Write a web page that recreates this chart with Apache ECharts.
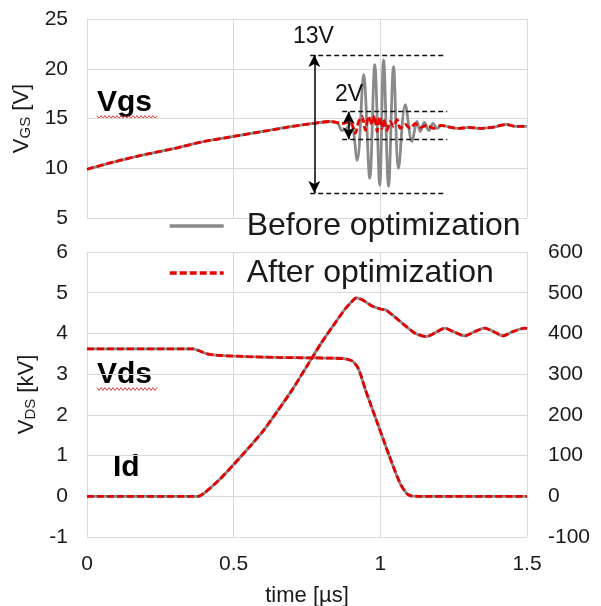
<!DOCTYPE html>
<html>
<head>
<meta charset="utf-8">
<script src="https://cdn.jsdelivr.net/npm/echarts@6.0.0/dist/echarts.min.js"></script>
<style>
html,body{margin:0;padding:0;background:#fff;}
#chart{width:601px;height:606px;}
</style>
</head>
<body>
<div id="chart"></div>
<script>
// ---- Data ----
// Gate-source voltage, before optimization (grey)
const tVgsBefore = [0, 0.1, 0.2, 0.3, 0.4, 0.5, 0.6, 0.7, 0.77, 0.83, 0.855, 0.869, 0.885, 0.9, 0.921, 0.943, 0.964, 0.981, 0.998, 1.011, 1.028, 1.045, 1.062, 1.085, 1.108, 1.125, 1.136, 1.15, 1.165, 1.18, 1.193, 1.21, 1.24, 1.27, 1.3, 1.34, 1.38, 1.43, 1.46, 1.5];
const vgsBefore  = [9.9, 10.7, 11.4, 12.0, 12.7, 13.2, 13.7, 14.2, 14.5, 14.7, 14.5, 13.8, 14.0, 14.6, 10.8, 19.4, 9.0, 20.4, 8.3, 20.9, 8.2, 20.2, 10.0, 16.4, 12.7, 14.7, 13.7, 14.6, 13.8, 14.5, 14.0, 14.3, 14.1, 14.0, 14.1, 14.0, 14.1, 14.4, 14.2, 14.2];
// Gate-source voltage, after optimization (red dashed)
const tVgsAfter = [0, 0.1, 0.2, 0.3, 0.4, 0.5, 0.6, 0.7, 0.77, 0.83, 0.87, 0.898, 0.915, 0.926, 0.938, 0.949, 0.96, 0.972, 0.98, 0.989, 0.998, 1.006, 1.011, 1.023, 1.034, 1.045, 1.057, 1.068, 1.085, 1.102, 1.119, 1.136, 1.159, 1.182, 1.205, 1.24, 1.27, 1.3, 1.34, 1.38, 1.43, 1.46, 1.5];
const vgsAfter  = [9.9, 10.7, 11.4, 12.0, 12.7, 13.2, 13.7, 14.2, 14.5, 14.7, 14.5, 14.7, 13.5, 14.7, 15.2, 13.8, 15.2, 14.4, 15.3, 13.7, 15.2, 14.0, 14.9, 13.8, 14.7, 14.2, 14.9, 14.0, 14.4, 14.0, 14.5, 14.1, 14.3, 14.0, 14.3, 14.1, 14.0, 14.1, 14.0, 14.1, 14.4, 14.2, 14.2];
// Drain-source voltage [kV] (before and after coincide)
const tVds = [0, 0.36, 0.38, 0.41, 0.45, 0.55, 0.65, 0.75, 0.85, 0.885, 0.905, 0.92, 0.93, 0.95, 0.97, 0.99, 1.01, 1.03, 1.05, 1.07, 1.09, 1.105, 1.13, 1.3, 1.5];
const vds  = [3.62, 3.62, 3.58, 3.5, 3.46, 3.43, 3.41, 3.40, 3.39, 3.37, 3.32, 3.2, 3.05, 2.6, 2.2, 1.8, 1.4, 1.0, 0.62, 0.28, 0.07, 0.01, 0, 0, 0];
// Drain current [A] (before and after coincide)
const tId = [0, 0.379, 0.40, 0.45, 0.5, 0.55, 0.6, 0.65, 0.7, 0.75, 0.8, 0.85, 0.88, 0.9, 0.918, 0.94, 0.97, 1.0, 1.02, 1.05, 1.09, 1.12, 1.157, 1.19, 1.22, 1.25, 1.288, 1.32, 1.356, 1.39, 1.418, 1.45, 1.493, 1.5];
const id  = [0, 0, 8, 40, 78, 118, 160, 210, 262, 320, 378, 430, 460, 476, 487, 482, 468, 460, 457, 440, 416, 400, 392, 403, 413, 404, 394, 404, 413, 403, 394, 404, 413, 412];

// Axis ticks
const xTicks = [0, 0.5, 1, 1.5];
const vgsAxis = {min: 5, max: 25, interval: 5};
const vdsAxis = {min: -1, max: 6, interval: 1};
const idAxis  = {min: -100, max: 600, interval: 100};

// Annotation values (time µs, Vgs V)
const band13 = {t0: 0.761, t1: 1.215, hi: 21.38, lo: 7.51, tArrow: 0.775, label: '13V', tLabel: 0.772, vLabel: 23.2};
const band2  = {t0: 0.870, t1: 1.228, hi: 15.68, lo: 12.91, tArrow: 0.892, label: '2V', tLabel: 0.893, vLabel: 17.4};

const seriesNames = ['Before optimization', 'After optimization'];

// ---- Chart ----
const FONT = '"Liberation Sans", Arial, sans-serif';
const TXT = '#1a1a1a';
const GRID = '#d9d9d9';
const GREY = '#8a8a8a';
const RED = '#e60000';

const zip = (a, b) => a.map((v, i) => [v, b[i]]);

function beforeLine(name, data, xi, yi) {
  return {name, type: 'line', data, xAxisIndex: xi, yAxisIndex: yi, symbol: 'none', showSymbol: false,
    smooth: 0.35, silent: true, z: 2,
    lineStyle: {color: GREY, width: 2.8, type: 'solid'}, itemStyle: {color: GREY}};
}
function afterLine(name, data, xi, yi) {
  return {name, type: 'line', data, xAxisIndex: xi, yAxisIndex: yi, symbol: 'none', showSymbol: false,
    smooth: 0.2, silent: true, z: 3,
    lineStyle: {color: RED, width: 2.8, type: [7, 3]}, itemStyle: {color: RED}};
}

function wavy(x0, x1, y) {
  const pts = [];
  for (let x = x0, k = 0; x <= x1; x += 2, k++) pts.push([x, y + (k % 2 ? 1.4 : -1.4)]);
  return {type: 'polyline', shape: {points: pts}, style: {stroke: '#d23c3c', lineWidth: 1, fill: null}, silent: true};
}

const axisName = (sub, unit) => '{a|V}{b|' + sub + '}{a| [' + unit + ']}';
const nameRich = {
  a: {fontSize: 22, color: TXT, fontFamily: FONT},
  b: {fontSize: 15, color: TXT, fontFamily: FONT, verticalAlign: 'bottom', padding: [8, 0, 0, 0]}
};

const option = {
  animation: false,
  backgroundColor: '#fff',
  textStyle: {fontFamily: FONT},
  grid: [
    {left: 87, right: 74, top: 19, height: 199, outerBoundsMode: 'none', containLabel: false},
    {left: 87, right: 74, top: 252, height: 285, outerBoundsMode: 'none', containLabel: false}
  ],
  legend: {
    data: seriesNames,
    orient: 'vertical',
    left: 163, top: 205,
    itemWidth: 54, itemHeight: 14, itemGap: 15,
    itemStyle: {opacity: 0},
    lineStyle: {width: 3.4},
    textStyle: {fontSize: 32, color: TXT, fontFamily: FONT, padding: [0, 0, 0, 18]},
    selectedMode: false
  },
  xAxis: [
    {gridIndex: 0, type: 'value', min: xTicks[0], max: xTicks[xTicks.length - 1], interval: 0.5,
      axisLabel: {show: false}, axisLine: {show: false}, axisTick: {show: false},
      splitLine: {show: true, lineStyle: {color: GRID, width: 1}}},
    {gridIndex: 1, type: 'value', min: xTicks[0], max: xTicks[xTicks.length - 1], interval: 0.5,
      name: 'time [µs]', nameLocation: 'middle', nameGap: 48,
      nameTextStyle: {fontSize: 22, color: TXT, fontFamily: FONT},
      axisLabel: {fontSize: 21, color: TXT, margin: 17, fontFamily: FONT},
      axisLine: {show: false}, axisTick: {show: false},
      splitLine: {show: true, lineStyle: {color: GRID, width: 1}}}
  ],
  yAxis: [
    {gridIndex: 0, type: 'value', min: vgsAxis.min, max: vgsAxis.max, interval: vgsAxis.interval,
      name: axisName('GS', 'V'), nameLocation: 'middle', nameRotate: 90, nameGap: 49,
      nameTextStyle: {rich: nameRich},
      axisLabel: {fontSize: 21, color: TXT, margin: 19, fontFamily: FONT},
      axisLine: {show: false}, axisTick: {show: false},
      splitLine: {show: true, lineStyle: {color: GRID, width: 1}}},
    {gridIndex: 1, type: 'value', min: vdsAxis.min, max: vdsAxis.max, interval: vdsAxis.interval,
      name: axisName('DS', 'kV'), nameLocation: 'middle', nameRotate: 90, nameGap: 44,
      nameTextStyle: {rich: nameRich},
      axisLabel: {fontSize: 21, color: TXT, margin: 19, fontFamily: FONT},
      axisLine: {show: false}, axisTick: {show: false},
      splitLine: {show: true, lineStyle: {color: GRID, width: 1}}},
    {gridIndex: 1, type: 'value', position: 'right', min: idAxis.min, max: idAxis.max, interval: idAxis.interval,
      axisLabel: {fontSize: 21, color: TXT, margin: 21, fontFamily: FONT},
      axisLine: {show: false}, axisTick: {show: false}, splitLine: {show: false}}
  ],
  series: [
    beforeLine(seriesNames[0], zip(tVgsBefore, vgsBefore), 0, 0),
    afterLine(seriesNames[1], zip(tVgsAfter, vgsAfter), 0, 0),
    beforeLine(seriesNames[0], zip(tVds, vds), 1, 1),
    afterLine(seriesNames[1], zip(tVds, vds), 1, 1),
    beforeLine(seriesNames[0], zip(tId, id), 1, 2),
    afterLine(seriesNames[1], zip(tId, id), 1, 2),
    // dashed reference lines + labels
    {name: 'ref', type: 'line', data: [], xAxisIndex: 0, yAxisIndex: 0, silent: true, z: 5,
      markLine: {silent: true, symbol: ['none', 'none'], animation: false,
        label: {show: false},
        lineStyle: {color: '#111', width: 1.3, type: [5, 3]},
        data: [
          [{coord: [band13.t0, band13.hi]}, {coord: [band13.t1, band13.hi]}],
          [{coord: [band13.t0, band13.lo]}, {coord: [band13.t1, band13.lo]}],
          [{coord: [band2.t0, band2.hi]}, {coord: [band2.t1, band2.hi]}],
          [{coord: [band2.t0, band2.lo]}, {coord: [band2.t1, band2.lo]}]
        ]},
      markPoint: {silent: true, symbol: 'circle', symbolSize: 0, animation: false,
        label: {show: true, position: 'inside', formatter: '{b}', fontSize: 23, color: '#111', fontFamily: FONT},
        data: [
          {name: band13.label, coord: [band13.tLabel, band13.vLabel]},
          {name: band2.label, coord: [band2.tLabel, band2.vLabel]}
        ]}
    },
    // double arrows
    {name: 'arrows', type: 'line', data: [], xAxisIndex: 0, yAxisIndex: 0, silent: true, z: 6,
      markLine: {silent: true, symbol: ['arrow', 'arrow'], symbolSize: [9, 12], animation: false,
        label: {show: false},
        lineStyle: {color: '#000', width: 1.5, type: 'solid'},
        data: [
          [{coord: [band13.tArrow, band13.hi]}, {coord: [band13.tArrow, band13.lo]}],
          [{coord: [band2.tArrow, band2.hi]}, {coord: [band2.tArrow, band2.lo]}]
        ]}
    }
  ],
  graphic: [
    {type: 'text', x: 97, y: 103, silent: true,
      style: {text: 'Vgs', font: 'bold 30px ' + FONT, fill: '#000', verticalAlign: 'middle'}},
    {type: 'text', x: 97, y: 375, silent: true,
      style: {text: 'Vds', font: 'bold 30px ' + FONT, fill: '#000', verticalAlign: 'middle'}},
    {type: 'text', x: 113, y: 468, silent: true,
      style: {text: 'Id', font: 'bold 30px ' + FONT, fill: '#000', verticalAlign: 'middle'}},
    wavy(97, 157, 117),
    wavy(97, 158, 389)
  ]
};

const chart = echarts.init(document.getElementById('chart'), null, {renderer: 'canvas'});
chart.setOption(option);
</script>
</body>
</html>
